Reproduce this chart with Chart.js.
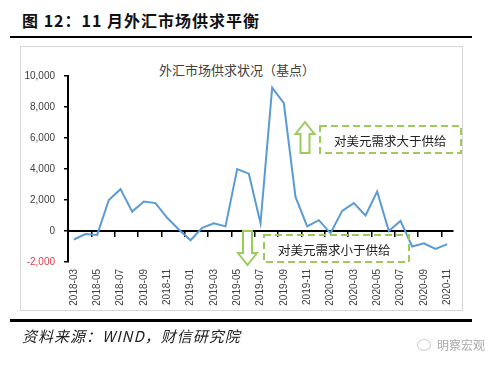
<!DOCTYPE html>
<html>
<head>
<meta charset="utf-8">
<script src="https://cdn.jsdelivr.net/npm/chart.js@4"></script>
<style>
  html, body { margin: 0; padding: 0; background: #fff; }
  #wrap { position: relative; width: 500px; height: 367px; overflow: hidden; }
  .abs { position: absolute; }
  #head { left: 22px; top: 8px; font: 700 16px "Noto Sans CJK SC", sans-serif; color: #111; letter-spacing: 1px; white-space: nowrap; }
  #topline { left: 10px; top: 36px; width: 462px; height: 2px; background: #000; }
  #frame { left: 20px; top: 46px; width: 441px; height: 263px; border: 1px solid #d6d6d6; }
  #ctitle { left: 0; width: 474px; top: 60px; text-align: center; font: 13px "Noto Sans CJK SC", sans-serif; color: #404040; }
  #botline { left: 10px; top: 319px; width: 462px; height: 3px; background: #000; }
  #src { left: 22px; top: 325px; font: italic 15px "Noto Sans CJK SC", serif; color: #222; white-space: nowrap; letter-spacing: 1px; }
  #mark { left: 437px; top: 336px; font: 12px "Noto Sans CJK SC", sans-serif; color: #aaa; white-space: nowrap; }
  #icon { left: 417px; top: 339px; width: 12px; height: 10px; border: 1px solid #ccc; border-radius: 50%; }
  canvas { position: absolute; left: 0; top: 0; }
</style>
</head>
<body>
<div id="wrap">
  <div id="frame" class="abs"></div>
  <div id="head" class="abs">图 12：11 月外汇市场供求平衡</div>
  <div id="topline" class="abs"></div>
  <div id="ctitle" class="abs">外汇市场供求状况（基点）</div>
  <canvas id="c" width="500" height="367"></canvas>
  <div id="botline" class="abs"></div>
  <div id="src" class="abs">资料来源：WIND，财信研究院</div>
  <div id="icon" class="abs"></div>
  <div id="mark" class="abs">明察宏观</div>
</div>
<script>
var months = ['2018-03','2018-04','2018-05','2018-06','2018-07','2018-08','2018-09','2018-10','2018-11','2018-12',
  '2019-01','2019-02','2019-03','2019-04','2019-05','2019-06','2019-07','2019-08','2019-09','2019-10','2019-11','2019-12',
  '2020-01','2020-02','2020-03','2020-04','2020-05','2020-06','2020-07','2020-08','2020-09','2020-10','2020-11'];
var supplyDemand = [-550, -200, -250, 2000, 2700, 1250, 1900, 1800, 850, 100,
  -600, 200, 500, 300, 4000, 3700, 500, 9250, 8250, 2200, 300, 700,
  -150, 1300, 1800, 1000, 2550, 0, 650, -1000, -800, -1150, -850];
var yTicks = [-2000, 0, 2000, 4000, 6000, 8000, 10000];
var noteUp = '对美元需求大于供给';
var noteDown = '对美元需求小于供给';

var green = '#9bcb5b';

function fmt(v) {
    return v.toString().replace(/\B(?=(\d{3})+(?!\d))/g, ',');
}

// hollow block arrow, dir = -1 up, 1 down
function arrow(ctx, cx, y0, y1, dir) {
    var shaft = 4.5, head = 9.5, headLen = 12;
    var tip = dir < 0 ? y0 : y1;
    var base = tip - dir * headLen;
    var tail = dir < 0 ? y1 : y0;
    ctx.beginPath();
    ctx.moveTo(cx, tip);
    ctx.lineTo(cx + head, base);
    ctx.lineTo(cx + shaft, base);
    ctx.lineTo(cx + shaft, tail);
    ctx.lineTo(cx - shaft, tail);
    ctx.lineTo(cx - shaft, base);
    ctx.lineTo(cx - head, base);
    ctx.closePath();
    ctx.stroke();
}

var notes = {
    id: 'notes',
    afterDatasetsDraw: function (chart) {
        var ctx = chart.ctx;
        ctx.save();
        ctx.strokeStyle = green;
        ctx.lineWidth = 2;
        ctx.setLineDash([]);
        arrow(ctx, 305, 122, 153, -1);
        arrow(ctx, 247.5, 231, 265, 1);
        ctx.setLineDash([7, 4]);
        ctx.strokeRect(320, 126, 141, 27);
        ctx.strokeRect(264, 235, 145, 27);
        ctx.fillStyle = '#222';
        ctx.font = '12.5px "Noto Sans CJK SC", sans-serif';
        ctx.textBaseline = 'middle';
        ctx.textAlign = 'left';
        ctx.fillText(noteUp, 334, 141);
        ctx.fillText(noteDown, 278, 250);
        ctx.restore();
    }
};

new Chart(document.getElementById('c'), {
    type: 'line',
    data: {
        labels: months,
        datasets: [{
            data: supplyDemand,
            borderColor: '#5b9bd5',
            borderWidth: 2,
            pointRadius: 0,
            tension: 0,
            fill: false
        }]
    },
    options: {
        responsive: false,
        animation: false,
        layout: { padding: { left: 0, right: 47, top: 76, bottom: 0 } },
        plugins: { legend: { display: false }, tooltip: { enabled: false }, title: { display: false } },
        scales: {
            x: {
                type: 'category',
                offset: true,
                grid: { display: false, drawTicks: false },
                border: { display: false },
                afterFit: function (s) { s.height = 105; },
                ticks: {
                    autoSkip: false,
                    minRotation: 90,
                    maxRotation: 90,
                    padding: 7,
                    color: '#404040',
                    font: { family: '"Liberation Sans", Arial, sans-serif', size: 10 },
                    callback: function (val, i) { return i % 2 === 0 ? this.getLabelForValue(val) : ''; }
                }
            },
            x2: {
                type: 'category',
                axis: 'x',
                position: { y: 0 },
                offset: true,
                border: { display: true, color: '#000', width: 2 },
                grid: {
                    offset: true,
                    drawOnChartArea: false,
                    drawTicks: true,
                    tickLength: 5,
                    lineWidth: 1.5,
                    color: function (c) { return c.index % 2 === 0 ? '#000' : 'rgba(0,0,0,0)'; }
                },
                ticks: { display: false }
            },
            y: {
                min: yTicks[0],
                max: yTicks[yTicks.length - 1],
                afterFit: function (s) { s.width = 68; },
                afterBuildTicks: function (s) { s.ticks = yTicks.map(function (v) { return { value: v }; }); },
                border: { display: true, color: '#000', width: 2 },
                grid: { drawOnChartArea: false, drawTicks: true, tickLength: 4, color: '#000', lineWidth: 1.5 },
                ticks: {
                    padding: 9,
                    font: { family: '"Liberation Sans", Arial, sans-serif', size: 10 },
                    color: function (c) { return c.tick && c.tick.value < 0 ? '#e0404e' : '#404040'; },
                    callback: function (v) { return fmt(v); }
                }
            }
        }
    },
    plugins: [notes]
});
</script>
</body>
</html>
